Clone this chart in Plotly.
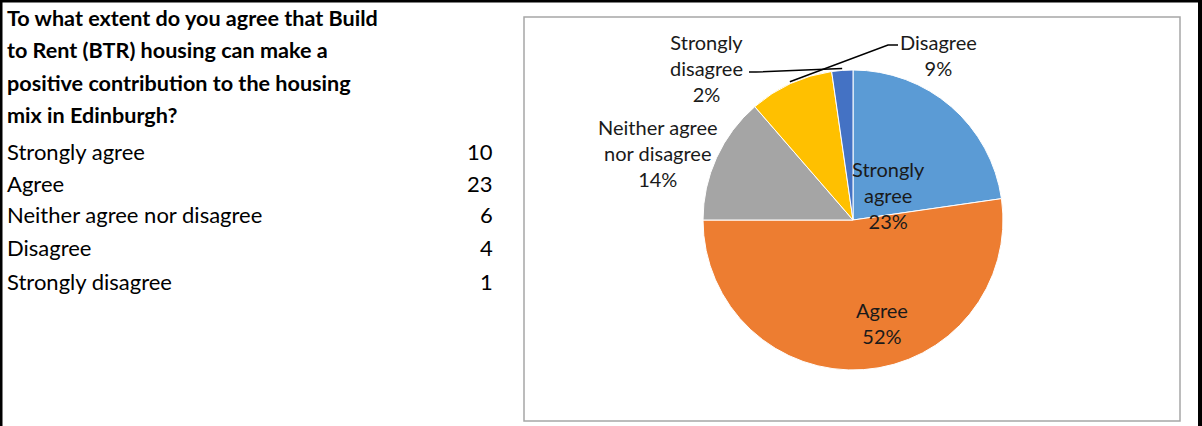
import math
import plotly.graph_objects as go

# ---- data ----
question_lines = ["To what extent do you agree that Build",
                  "to Rent (BTR) housing can make a",
                  "positive contribution to the housing",
                  "mix in Edinburgh?"]
categories = ["Strongly agree", "Agree", "Neither agree nor disagree", "Disagree", "Strongly disagree"]
counts = [10, 23, 6, 4, 1]
pie_label_text = ["Strongly<br>agree", "Agree", "Neither agree<br>nor disagree", "Disagree", "Strongly<br>disagree"]

# ---- style ----
W, H = 1202, 426
colors = ["#5B9BD5", "#ED7D31", "#A5A5A5", "#FFC000", "#4472C4"]
FONT = "Lato"
cx, cy, R = 853, 220, 150  # pie centre / radius in px


def px(x):
    return x / W


def py(y):
    return 1 - y / H


total = sum(counts)
pcts = [c / total for c in counts]

fig = go.Figure()
fig.add_trace(go.Pie(
    labels=categories, values=counts, sort=False, direction="clockwise", rotation=0,
    marker=dict(colors=colors, line=dict(color="white", width=1)),
    textinfo="none", hoverinfo="label+value+percent", showlegend=False,
    domain=dict(x=[px(cx - R), px(cx + R)], y=[py(cy + R), py(cy - R)]),
))

annotations = []
# table: question
title_y = [18, 50, 83, 115]
for line, yy in zip(question_lines, title_y):
    annotations.append(dict(x=px(5), y=py(yy), xref="paper", yref="paper", text="<b>" + line + "</b>",
                            showarrow=False, xanchor="left", yanchor="middle",
                            font=dict(family=FONT, size=21.6, color="black")))
row_y = [151, 183, 215, 248, 281]
for cat, val, yy in zip(categories, counts, row_y):
    annotations.append(dict(x=px(5), y=py(yy), xref="paper", yref="paper", text=cat,
                            showarrow=False, xanchor="left", yanchor="middle",
                            font=dict(family=FONT, size=22, color="black")))
    annotations.append(dict(x=px(495), y=py(yy), xref="paper", yref="paper", text=str(val),
                            showarrow=False, xanchor="right", yanchor="middle",
                            font=dict(family=FONT, size=22, color="black")))

# pie data labels
label_pos = [(888, 195), (882, 323), (658, 153), (938, 55), (706, 68)]
for txt, p, (lx, ly) in zip(pie_label_text, pcts, label_pos):
    annotations.append(dict(x=px(lx), y=py(ly), xref="paper", yref="paper",
                            text=f"{txt}<br>{round(p * 100)}%", showarrow=False,
                            xanchor="center", yanchor="middle",
                            font=dict(family=FONT, size=20, color="#1a1a1a")))

shapes = []
# outer black frame (top, left, right)
shapes.append(dict(type="line", xref="paper", yref="paper", x0=0, x1=1, y0=py(1), y1=py(1),
                   line=dict(color="black", width=3)))
shapes.append(dict(type="line", xref="paper", yref="paper", x0=px(1), x1=px(1), y0=0, y1=1,
                   line=dict(color="black", width=3)))
shapes.append(dict(type="line", xref="paper", yref="paper", x0=px(1200), x1=px(1200), y0=0, y1=1,
                   line=dict(color="black", width=4)))
# chart area box
shapes.append(dict(type="rect", xref="paper", yref="paper", x0=px(524), x1=px(1180), y0=py(421), y1=py(17),
                   line=dict(color="#A6A6A6", width=1.5)))

# leader lines for the two small slices, ending at slice mid-angle on the rim
cum = 0
mids = []
for p in pcts:
    mids.append((cum + p / 2) * 2 * math.pi)
    cum += p


def rim(i, r=152):
    a = mids[i]
    return cx + r * math.sin(a), cy - r * math.cos(a)


# Disagree (index 3): label to the right
ex, ey = rim(3)
shapes.append(dict(type="path", xref="paper", yref="paper",
                   path=f"M {px(898)},{py(45)} L {px(888)},{py(45)} L {px(ex)},{py(ey)}",
                   line=dict(color="black", width=1.5)))
# Strongly disagree (index 4): label to the left
ex, ey = rim(4)
shapes.append(dict(type="path", xref="paper", yref="paper",
                   path=f"M {px(749)},{py(72)} L {px(756)},{py(72)} L {px(ex)},{py(ey)}",
                   line=dict(color="black", width=1.5)))

fig.update_layout(width=W, height=H, margin=dict(l=0, r=0, t=0, b=0),
                  paper_bgcolor="white", plot_bgcolor="white",
                  annotations=annotations, shapes=shapes)
fig.write_html("out.html", config={"displayModeBar": False},
               post_script="document.body.style.margin='0';document.body.style.overflow='hidden';")
